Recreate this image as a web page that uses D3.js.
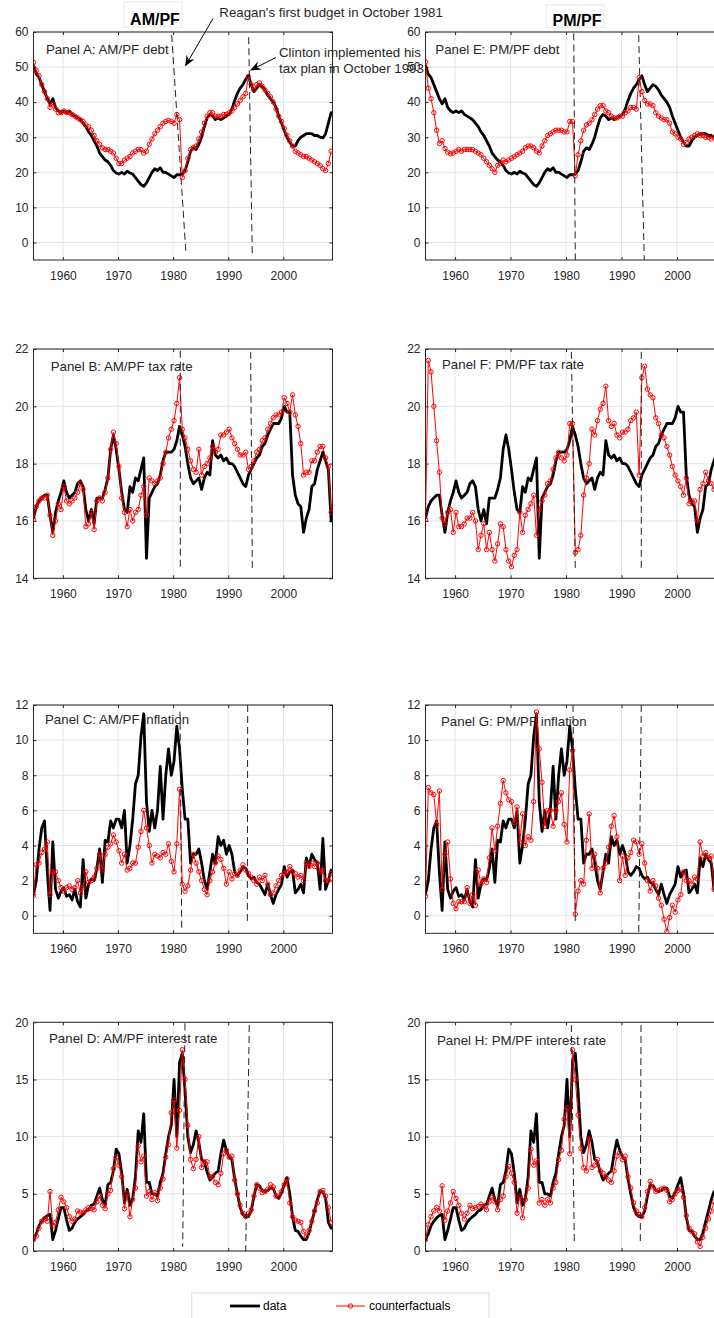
<!DOCTYPE html>
<html>
<head>
<meta charset="utf-8">
<script src="https://cdn.jsdelivr.net/npm/d3@7"></script>
<style>
  body { margin: 0; background: #fff; }
  svg { display: block; }
  text { font-family: "Liberation Sans", Arial, Helvetica, sans-serif; }
</style>
</head>
<body>
<svg id="fig" width="714" height="1318"></svg>
<script>
// Observations: half-year steps starting 1954Q3
const startYear = 1954.667;
const stepYears = 0.5;

// Data: debt / GDP (shared by panels A and E)
const debtData = [50.5,
  48, 47, 45, 43, 41, 39.5, 41, 38.5, 37.5, 37,
  37.5, 37, 37.5, 36.5, 36, 35.5, 35, 34, 33, 31.5, 30.5, 29, 27.5, 25.5, 24.5, 23.5, 23, 22, 20.5, 19.8,
  19.5, 20, 19.5, 20.3, 19.8, 19.5, 18.5, 17.5, 16.5, 16, 17, 18.5, 20, 21, 20.5, 21.3, 20, 20, 19.5, 19,
  18.5, 19.3, 19.3, 19.5, 20.5, 23, 26, 27, 26.5, 28, 30, 33, 35.5, 36.5, 36, 35, 35.5, 35, 35.5, 36,
  36.5, 38, 40.5, 42.5, 44, 45, 46.5, 47.5, 45, 43, 44, 45, 44.5, 43.5, 42, 41, 40, 38.5, 36, 34,
  32, 30, 28.5, 27.5, 27.5, 29, 30, 30.5, 31, 31, 31, 30.5, 30.5, 30, 29.8, 31, 34, 37];
const debtAM = [51.3,
  49, 47.5, 45, 43, 41, 38.5, 39.5, 38, 37, 37,
  37.5, 37, 37, 36.5, 36, 35.5, 35, 34.5, 33.5, 33, 32, 30.5, 29, 28, 27, 26.5, 26.5, 26, 25.5, 24,
  22.5, 22.5, 23.5, 24, 24.5, 25.5, 26, 26.5, 26.5, 25.5, 26, 28, 29.5, 31, 32, 33, 34, 34.5, 34.8, 34.5,
  34, 36.5, 35, 18.5, 20.5, 24, 26.5, 27, 27.5, 29.5, 31.5, 34, 36, 37, 37, 36, 36, 36, 36.5, 36.5,
  37, 37.5, 38.5, 39.5, 40.5, 41.5, 42.5, 47.3, 45, 43.5, 45, 45.5, 44.5, 43.5, 42.5, 41.5, 40, 38, 36, 34.5,
  32.5, 30.5, 29, 27.5, 26, 25.5, 25, 24.5, 24.5, 24, 23.5, 23, 22.5, 22, 21, 20.5, 22.5, 26];
const debtPM = [51.5,
  44, 41, 37, 32, 28.2, 29, 26.8, 25.7, 25.3, 25.5,
  26, 26.5, 26, 26.5, 26.5, 26.5, 26.5, 26, 25.5, 25, 24, 23, 22, 21, 20, 22, 22.5, 23.5, 23, 23.5,
  24, 24.5, 25, 25.5, 26, 27, 27.5, 27.5, 27, 26, 25.5, 27.5, 29, 30.5, 31, 31.5, 32, 32, 32, 31.5,
  31.5, 34.5, 34.5, 19, 25, 29, 32, 33.5, 34, 35, 36.5, 38, 39, 39, 37.5, 37, 36, 35.5, 35.5, 36,
  36, 37, 37.5, 38.5, 38.5, 38, 47, 43, 40.5, 39.5, 39.5, 39, 37, 36, 35.5, 35, 35, 34, 31.5, 31,
  30, 29.5, 28, 28.5, 29.5, 30, 30.5, 31, 30.5, 30.5, 30, 30, 29.5, 30, 29.5, 30, 29.5, 30];

// Data: tax rate (shared by panels B and F)
const taxData = [16.1,
  16.5, 16.7, 16.8, 16.9, 16.9, 16.2, 15.6, 16.3, 16.7, 17.0,
  17.4, 17.0, 16.8, 16.9, 17.0, 17.3, 17.4, 17.2, 16.4, 16.0, 16.4, 15.9, 16.8, 16.8, 16.8, 17.1, 17.5, 18.5, 19.0, 18.5,
  17.8, 17.0, 16.4, 16.3, 17.2, 17.0, 17.5, 17.4, 17.8, 18.2, 14.7, 16.8, 17.0, 17.2, 17.3, 17.6, 18.1, 18.4, 18.4, 18.4,
  18.5, 18.8, 19.3, 19.0, 18.6, 18.0, 17.5, 17.3, 17.4, 17.5, 17.1, 17.5, 17.7, 17.6, 18.8, 18.3, 18.2, 18.3, 18.1, 18.2,
  18.0, 18.0, 17.9, 17.7, 17.5, 17.3, 17.2, 17.6, 17.8, 18.0, 18.2, 18.3, 18.6, 18.7, 19.0, 19.2, 19.4, 19.4, 19.4, 19.6,
  20.0, 19.8, 19.8, 17.6, 16.9, 16.6, 16.5, 15.6, 16.1, 16.4, 17.2, 17.3, 17.8, 18.1, 18.4, 18.1, 17.8, 16.0];
const taxAM = [16.05,
  16.5, 16.7, 16.8, 16.8, 16.9, 16.2, 15.5, 16.0, 16.6, 16.4,
  17.2, 16.7, 16.6, 16.7, 16.8, 17.0, 17.3, 17.1, 15.8, 15.9, 16.3, 15.7, 16.7, 16.8, 16.7, 17.0, 17.5, 18.5, 19.1, 18.7,
  17.9, 16.8, 16.3, 15.8, 16.4, 16.0, 16.3, 16.4, 16.9, 17.2, 16.2, 17.5, 17.4, 17.3, 17.4, 17.5, 18.0, 18.4, 18.9, 19.2,
  19.5, 20.1, 21.0, 19.2, 18.9, 18.5, 18.1, 17.8, 17.7, 18.5, 17.6, 17.9, 18.0, 18.2, 18.6, 18.4, 18.5, 19.0, 19.0, 19.1,
  19.2, 18.9, 18.7, 18.5, 18.3, 18.3, 18.4, 17.8, 17.9, 18.1, 18.4, 18.5, 18.8, 18.9, 19.2, 19.4, 19.6, 19.7, 19.7, 19.8,
  20.3, 20.1, 19.8, 20.4, 19.7, 19.3, 18.7, 17.6, 17.7, 17.7, 18.1, 18.1, 18.4, 18.6, 18.6, 18.2, 17.9, 16.3];
const taxPM = [16.05,
  21.6, 21.2, 20.0, 18.8, 17.7, 16.1, 15.9, 16.3, 16.4, 15.6,
  16.3, 15.8, 15.8, 15.9, 16.1, 16.1, 16.3, 16.0, 15.0, 15.5, 15.9, 15.0, 15.6, 15.0, 14.6, 15.2, 15.9, 15.8, 15.0, 14.6,
  14.4, 14.8, 15.0, 16.3, 15.6, 16.2, 16.4, 16.6, 16.9, 15.5, 16.4, 16.7, 16.9, 17.3, 17.4, 17.8, 18.2, 18.4, 18.2, 18.1,
  18.3, 19.4, 19.4, 14.9, 15.0, 15.5, 16.9, 17.5, 18.0, 19.2, 19.0, 19.5, 19.9, 20.1, 20.7, 19.5, 19.3, 19.4, 19.0, 18.9,
  19.1, 19.1, 19.2, 19.5, 19.6, 19.8, 17.6, 21.0, 21.4, 20.6, 20.4, 20.3, 19.6, 19.4, 19.0, 18.9, 18.6, 18.3, 17.9, 17.6,
  17.4, 17.2, 16.9, 17.5, 16.6, 16.7, 16.7, 16.0, 17.1, 17.3, 17.7, 17.4, 17.3, 17.1, 17.3, 17.5, 17.0, 16.8];

// Data: inflation (shared by panels C and G)
const inflData = [1.2,
  2.0, 3.8, 5.0, 5.4, 2.5, 0.3, 4.2, 1.5, 1.0, 1.4,
  1.6, 1.1, 1.2, 0.9, 1.5, 0.8, 0.5, 3.2, 1.0, 1.8, 2.1, 2.0, 2.7, 3.8, 1.9, 4.3, 4.2, 5.4, 5.0, 5.5,
  5.5, 5.0, 6.0, 3.0, 4.0, 5.5, 7.5, 8.0, 10.2, 11.5, 6.5, 4.8, 6.0, 5.0, 6.0, 8.5, 5.5, 8.0, 9.5, 8.0,
  8.8, 10.8, 9.5, 7.2, 5.5, 5.5, 3.0, 3.5, 3.5, 3.8, 3.0, 2.0, 1.5, 2.5, 3.5, 3.0, 4.5, 4.0, 4.3, 3.5,
  4.0, 3.5, 2.5, 2.3, 2.5, 2.8, 2.7, 2.3, 2.1, 2.2, 1.9, 1.8, 1.5, 1.2, 1.8, 1.2, 0.7, 1.2, 1.5, 1.8,
  2.8, 2.2, 2.5, 2.6, 1.3, 1.5, 1.8, 1.3, 3.3, 2.8, 3.5, 3.2, 3.0, 1.5, 4.4, 1.5, 2.0, 2.6];
const inflAM = [1.15,
  2.9, 3.0, 3.6, 3.8, 4.2, 1.2, 2.5, 2.5, 2.0, 1.6,
  1.4, 1.6, 1.7, 1.5, 1.6, 2.0, 1.3, 1.6, 2.5, 1.9, 2.0, 2.2, 2.7, 3.5, 2.6, 3.5, 3.9, 4.1, 4.6, 4.2,
  3.7, 3.0, 3.5, 2.6, 2.7, 3.0, 3.0, 3.9, 4.8, 6.0, 5.0, 4.0, 3.0, 3.5, 3.4, 3.3, 3.6, 3.5, 4.1, 3.1,
  2.5, 4.1, 7.2, 1.8, 1.4, 1.7, 2.6, 3.5, 3.0, 2.5, 2.0, 1.5, 1.2, 2.0, 2.5, 3.0, 3.4, 3.2, 2.7, 1.8,
  2.5, 2.1, 2.4, 2.3, 2.6, 2.9, 2.6, 2.4, 2.2, 2.0, 1.8, 2.2, 2.0, 2.3, 1.8, 1.2, 1.3, 1.7, 2.0, 2.3,
  2.4, 2.5, 2.8, 2.5, 2.4, 2.2, 2.3, 2.0, 3.0, 2.8, 3.0, 2.8, 3.0, 2.5, 2.6, 2.0, 2.0, 2.4];
const inflPM = [1.1,
  7.3, 7.0, 6.9, 5.2, 7.1, 1.5, 3.5, 4.2, 2.1, 0.7,
  0.4, 0.8, 0.8, 0.8, 1.6, 0.7, 1.2, 0.6, 2.6, 1.8, 2.1, 1.9, 3.3, 5.0, 3.7, 5.1, 6.4, 7.7, 7.0, 6.6,
  6.5, 5.3, 6.2, 4.2, 5.8, 4.0, 4.5, 4.3, 6.5, 11.6, 9.5, 7.6, 5.1, 6.0, 6.0, 5.1, 6.0, 6.5, 7.0, 5.2,
  4.2, 8.3, 9.4, 0.1, 1.4, 2.0, 1.8, 4.3, 5.8, 2.7, 3.5, 2.7, 1.3, 2.7, 3.0, 3.9, 5.1, 5.7, 4.5, 2.0,
  3.4, 2.3, 3.3, 3.6, 4.3, 4.2, 3.5, 4.1, 3.0, 2.0, 1.4, 2.0, 1.7, 1.0, 0.6, -0.2, -0.9, -0.1, 0.6, 0.2,
  0.9, 1.2, 2.5, 2.0, 2.0, 1.8, 2.2, 2.1, 4.2, 3.4, 3.6, 3.3, 3.4, 1.5, 2.5, 2.6, 2.7, 2.8];

// Data: interest rate (shared by panels D and H)
const intData = [1.0,
  1.5, 2.2, 2.6, 2.9, 3.1, 3.2, 1.0, 1.8, 2.8, 3.8,
  3.8, 2.7, 1.8, 2.0, 2.5, 2.8, 3.0, 3.2, 3.5, 3.6, 4.0, 4.1, 4.8, 5.5, 4.5, 4.0, 5.8, 6.0, 7.0, 8.9,
  8.5, 6.8, 4.2, 5.4, 4.0, 4.6, 6.5, 10.5, 9.5, 12.0, 6.0, 6.0, 5.0, 5.0, 4.8, 6.0, 6.8, 8.5, 10.0, 11.0,
  15.0, 10.0, 16.5, 17.3, 14.0, 10.0, 8.6, 9.3, 10.5, 9.5, 8.0, 7.8, 6.9, 6.2, 6.5, 6.8, 7.0, 8.5, 9.7, 8.8,
  8.2, 8.0, 6.3, 5.0, 3.8, 3.2, 3.0, 3.0, 3.5, 4.8, 5.8, 5.7, 5.3, 5.2, 5.3, 5.5, 5.5, 4.8, 4.6, 5.1,
  5.8, 6.4, 5.0, 3.0, 1.8, 1.7, 1.3, 1.0, 1.0, 1.6, 2.6, 3.5, 4.5, 5.2, 5.2, 4.6, 2.5, 2.0];
const intAM = [1.0,
  1.3, 2.0, 2.6, 2.8, 2.6, 5.2, 2.2, 2.5, 3.6, 4.7,
  4.3, 3.8, 3.0, 2.6, 2.8, 3.5, 3.4, 3.3, 3.6, 3.8, 3.7, 3.6, 4.3, 4.8, 4.0, 3.7, 5.0, 5.3, 7.2, 8.2,
  7.5, 6.5, 3.7, 5.0, 3.0, 4.5, 5.5, 9.2, 7.8, 8.3, 4.8, 5.2, 4.5, 5.1, 4.4, 5.5, 6.3, 8.2, 9.3, 12.1,
  13.2, 9.0, 12.3, 17.6, 15.0, 11.0, 8.0, 7.2, 8.0, 10.0, 7.3, 7.8, 7.8, 6.5, 6.5, 6.0, 5.8, 6.8, 8.5, 8.8,
  8.2, 8.3, 6.2, 5.0, 4.0, 3.3, 3.0, 3.3, 3.6, 4.8, 5.8, 5.5, 5.1, 5.2, 5.4, 5.8, 5.6, 4.8, 4.8, 5.2,
  5.8, 6.3, 4.2, 3.0, 2.7, 2.6, 2.5, 1.7, 1.3, 1.8, 2.6, 3.5, 4.2, 5.2, 5.3, 4.8, 3.8, 2.5];
const intPM = [1.0,
  2.3, 3.0, 3.5, 3.8, 3.5, 5.7, 2.7, 3.5, 4.2, 5.2,
  4.6, 4.0, 3.3, 2.8, 3.3, 4.0, 3.7, 3.8, 3.9, 4.1, 3.9, 3.6, 4.3, 4.7, 4.3, 3.6, 4.5, 4.8, 6.5, 7.4,
  6.8, 6.0, 3.3, 4.8, 2.9, 4.5, 5.5, 8.9, 7.5, 7.9, 4.2, 4.5, 4.0, 4.5, 4.2, 5.5, 6.0, 8.0, 8.8, 11.5,
  12.5, 8.5, 17.6, 15.0, 11.9, 9.0, 7.3, 7.0, 9.8, 7.3, 7.5, 8.0, 7.0, 6.8, 6.5, 6.2, 6.0, 7.0, 8.3, 8.6,
  8.0, 8.3, 6.5, 5.5, 4.2, 3.5, 3.2, 3.0, 3.8, 5.2, 6.1, 5.6, 5.2, 5.3, 5.4, 5.5, 5.3, 4.3, 4.5, 5.0,
  5.3, 5.4, 4.7, 3.1, 2.0, 1.7, 1.5, 0.8, 0.4, 1.2, 2.0, 2.8, 3.5, 4.3, 4.8, 4.6, 3.8, 2.5];

// Axis ticks
const yearTicks = [1960, 1970, 1980, 1990, 2000];
const debtTicks = [0, 10, 20, 30, 40, 50, 60];
const taxTicks = [14, 16, 18, 20, 22];
const inflTicks = [0, 2, 4, 6, 8, 10, 12];
const intTicks = [0, 5, 10, 15, 20];

// Policy-change markers (Reagan 1981, Clinton 1993) as [year1, value1, year2, value2]
const eventsA = [[1979.74, 59.1, 1982.33, -3.1], [1993.71, 58.5, 1994.36, -3.3]];
const eventsE = [[1981.38, 59.6, 1981.67, -5], [1993.09, 59.1, 1994.10, -5]];
const eventsB = [[1981.30, 21.94, 1981.30, 14.35], [1994.07, 21.9, 1994.37, 14.29]];
const eventsF = [[1980.95, 21.9, 1981.67, 14.29], [1993.56, 21.9, 1993.56, 14.33]];
const eventsC = [[1981.25, 11.62, 1981.56, -0.76], [1993.53, 12, 1993.46, -0.53]];
const eventsG = [[1981.25, 12, 1981.67, -0.53], [1993.56, 12, 1993.10, -1]];
const eventsD = [[1982.15, 19.91, 1981.74, 0.38], [1993.82, 19.76, 1993.17, 0]];
const eventsH = [[1980.95, 19.76, 1981.49, 0.7], [1993.51, 19.76, 1993.38, 0.81]];

// Layout
const xDomain = [1954.667, 2008.917];
const colX = [[33.5, 332.5], [425.5, 726.5]];
const rowY = [[32, 260], [349, 578.3], [705, 933.3], [1022.3, 1251]];
const axisColor = "#262626";
const gridColor = "#e3e3e3";
const red = "#ff0000";
const labelSize = 13.3;

const panels = [
  { label: "Panel A: AM/PF debt", col: 0, row: 0, data: debtData, cf: debtAM, yDomain: [-5, 60], yTicks: debtTicks, events: eventsA, lab: [12.5, 17.3] },
  { label: "Panel B: AM/PF tax rate", col: 0, row: 1, data: taxData, cf: taxAM, yDomain: [14, 22], yTicks: taxTicks, events: eventsB, lab: [17.2, 17] },
  { label: "Panel C: AM/PF inflation", col: 0, row: 2, data: inflData, cf: inflAM, yDomain: [-1, 12], yTicks: inflTicks, events: eventsC, lab: [11.5, 14] },
  { label: "Panel D: AM/PF interest rate", col: 0, row: 3, data: intData, cf: intAM, yDomain: [0, 20], yTicks: intTicks, events: eventsD, lab: [15.5, 16] },
  { label: "Panel E: PM/PF debt", col: 1, row: 0, data: debtData, cf: debtPM, yDomain: [-5, 60], yTicks: debtTicks, events: eventsE, lab: [9.8, 17.3] },
  { label: "Panel F: PM/PF tax rate", col: 1, row: 1, data: taxData, cf: taxPM, yDomain: [14, 22], yTicks: taxTicks, events: eventsF, lab: [16.5, 15.3] },
  { label: "Panel G: PM/PF inflation", col: 1, row: 2, data: inflData, cf: inflPM, yDomain: [-1, 12], yTicks: inflTicks, events: eventsG, lab: [15.5, 16.7] },
  { label: "Panel H: PM/PF interest rate", col: 1, row: 3, data: intData, cf: intPM, yDomain: [0, 20], yTicks: intTicks, events: eventsH, lab: [11.5, 17.7] }
];

const svg = d3.select("#fig");
const defs = svg.append("defs");
const obsYears = d3.range(debtData.length).map(i => startYear + i * stepYears);

function styleAxis(sel, showText) {
  sel.select(".domain").remove();
  sel.selectAll(".tick line").attr("stroke", axisColor).attr("stroke-width", 1);
  sel.selectAll(".tick text")
    .attr("fill", axisColor)
    .attr("font-size", 12)
    .attr("font-family", '"Liberation Sans", Arial, Helvetica, sans-serif');
  if (!showText) sel.selectAll(".tick text").remove();
}

panels.forEach((p, k) => {
  const [x0, x1] = colX[p.col];
  const [y0, y1] = rowY[p.row];
  const x = d3.scaleLinear().domain(xDomain).range([x0, x1]);
  const y = d3.scaleLinear().domain(p.yDomain).range([y1, y0]);
  const g = svg.append("g");

  const clipId = "plotArea" + k;
  defs.append("clipPath").attr("id", clipId)
    .append("rect").attr("x", x0).attr("y", y0).attr("width", x1 - x0).attr("height", y1 - y0);

  // white plot area
  g.append("rect").attr("x", x0).attr("y", y0).attr("width", x1 - x0).attr("height", y1 - y0).attr("fill", "#fff");

  // grid
  g.append("g").selectAll("line").data(yearTicks).join("line")
    .attr("x1", d => x(d)).attr("x2", d => x(d)).attr("y1", y0).attr("y2", y1)
    .attr("stroke", gridColor).attr("stroke-width", 1);
  g.append("g").selectAll("line").data(p.yTicks).join("line")
    .attr("x1", x0).attr("x2", x1).attr("y1", d => y(d)).attr("y2", d => y(d))
    .attr("stroke", gridColor).attr("stroke-width", 1);

  // axes with inward ticks on all four sides
  g.append("g").attr("transform", `translate(0,${y1})`)
    .call(d3.axisBottom(x).tickValues(yearTicks).tickFormat(d3.format("d")).tickSizeInner(-3).tickSizeOuter(0).tickPadding(11.5))
    .call(s => styleAxis(s, true));
  g.append("g").attr("transform", `translate(0,${y0})`)
    .call(d3.axisTop(x).tickValues(yearTicks).tickSizeInner(-3).tickSizeOuter(0))
    .call(s => styleAxis(s, false));
  g.append("g").attr("transform", `translate(${x0},0)`)
    .call(d3.axisLeft(y).tickValues(p.yTicks).tickFormat(d3.format("d")).tickSizeInner(-3).tickSizeOuter(0).tickPadding(5))
    .call(s => styleAxis(s, true));
  g.append("g").attr("transform", `translate(${x1},0)`)
    .call(d3.axisRight(y).tickValues(p.yTicks).tickSizeInner(-3).tickSizeOuter(0))
    .call(s => styleAxis(s, false));

  // box
  g.append("rect").attr("x", x0).attr("y", y0).attr("width", x1 - x0).attr("height", y1 - y0)
    .attr("fill", "none").attr("stroke", axisColor).attr("stroke-width", 1);

  // panel label (under the series)
  g.append("text").attr("x", x0 + p.lab[0]).attr("y", y0 + p.lab[1]).attr("dy", "0.35em")
    .attr("font-size", labelSize).attr("fill", axisColor).text(p.label);

  const plot = g.append("g").attr("clip-path", `url(#${clipId})`);
  const line = d3.line().x((d, i) => x(obsYears[i])).y(d => y(d));

  // data
  plot.append("path").datum(p.data).attr("d", line)
    .attr("fill", "none").attr("stroke", "#000").attr("stroke-width", 2.8)
    .attr("stroke-linejoin", "round").attr("stroke-linecap", "round");

  // counterfactuals
  plot.append("path").datum(p.cf).attr("d", line)
    .attr("fill", "none").attr("stroke", red).attr("stroke-width", 1);
  plot.append("g").selectAll("circle").data(p.cf).join("circle")
    .attr("cx", (d, i) => x(obsYears[i])).attr("cy", d => y(d)).attr("r", 2.2)
    .attr("fill", "none").attr("stroke", red).attr("stroke-width", 1);

  // policy-change dashed lines
  g.append("g").selectAll("line").data(p.events).join("line")
    .attr("x1", d => x(d[0])).attr("y1", d => y(d[1]))
    .attr("x2", d => x(d[2])).attr("y2", d => y(d[3]))
    .attr("stroke", "#222").attr("stroke-width", 1).attr("stroke-dasharray", "7,4");
});

// Column titles
function columnTitle(cx, boxX, boxY, boxW, boxH, baseline, txt) {
  svg.append("rect").attr("x", boxX).attr("y", boxY).attr("width", boxW).attr("height", boxH)
    .attr("fill", "#fff").attr("stroke", "#e8e8e8").attr("stroke-width", 1);
  svg.append("text").attr("x", cx).attr("y", baseline).attr("text-anchor", "middle")
    .attr("font-size", 16).attr("font-weight", "bold").attr("fill", "#000").text(txt);
}
columnTitle(155, 124, 2, 58, 25, 25, "AM/PF");
columnTitle(577, 546, 5, 58, 22, 25.5, "PM/PF");

// Annotations with arrows
function arrow(xs, ys, xt, yt) {
  const a = Math.atan2(yt - ys, xt - xs);
  const L = 11, W = 4.5, N = 7.5;
  const bx = xt - L * Math.cos(a), by = yt - L * Math.sin(a);
  const nx = xt - N * Math.cos(a), ny = yt - N * Math.sin(a);
  const px = -Math.sin(a), py = Math.cos(a);
  svg.append("line").attr("x1", xs).attr("y1", ys).attr("x2", nx).attr("y2", ny)
    .attr("stroke", "#000").attr("stroke-width", 1);
  svg.append("path")
    .attr("d", `M${xt},${yt}L${bx + W * px},${by + W * py}L${nx},${ny}L${bx - W * px},${by - W * py}Z`)
    .attr("fill", "#000");
}
svg.append("text").attr("x", 219.3).attr("y", 16.5).attr("font-size", labelSize).attr("fill", axisColor)
  .text("Reagan's first budget in October 1981");
arrow(213, 18.5, 185, 66.5);
svg.append("text").attr("x", 279).attr("y", 56.5).attr("font-size", labelSize).attr("fill", axisColor)
  .text("Clinton implemented his");
svg.append("text").attr("x", 279).attr("y", 73).attr("font-size", labelSize).attr("fill", axisColor)
  .text("tax plan in October 1993");
arrow(276, 57.5, 250, 70.5);

// Legend
const legend = svg.append("g");
legend.append("rect").attr("x", 191.7).attr("y", 1293).attr("width", 297.3).attr("height", 30)
  .attr("fill", "#fff").attr("stroke", "#dcdcdc").attr("stroke-width", 1);
legend.append("line").attr("x1", 230).attr("x2", 260).attr("y1", 1306).attr("y2", 1306)
  .attr("stroke", "#000").attr("stroke-width", 2.8);
legend.append("text").attr("x", 263).attr("y", 1306).attr("dy", "0.35em").attr("font-size", 12)
  .attr("fill", "#000").text("data");
legend.append("line").attr("x1", 336).attr("x2", 365).attr("y1", 1306).attr("y2", 1306)
  .attr("stroke", red).attr("stroke-width", 1);
legend.append("circle").attr("cx", 350.5).attr("cy", 1306).attr("r", 2.2)
  .attr("fill", "none").attr("stroke", red).attr("stroke-width", 1);
legend.append("text").attr("x", 369).attr("y", 1306).attr("dy", "0.35em").attr("font-size", 12)
  .attr("fill", "#000").text("counterfactuals");
</script>
</body>
</html>
